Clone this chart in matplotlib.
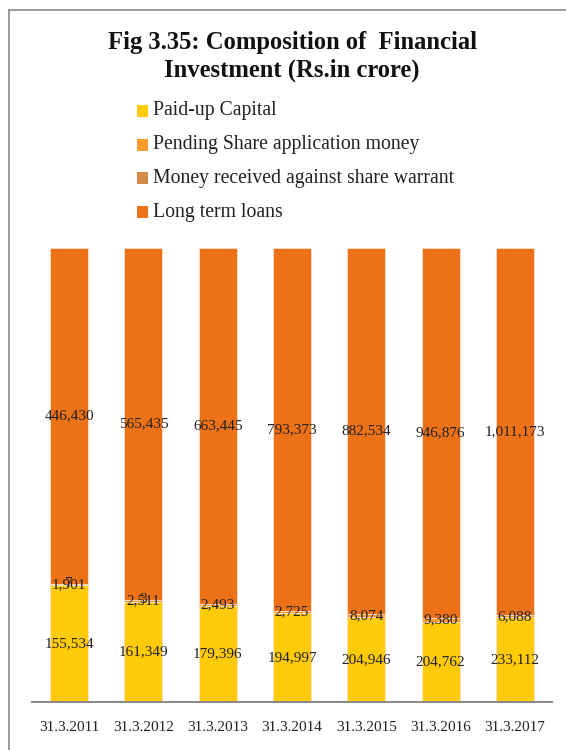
import matplotlib
matplotlib.use("Agg")
import matplotlib.pyplot as plt
from matplotlib.patches import Rectangle
from matplotlib.lines import Line2D
import numpy as np

categories = ["31.3.2011", "31.3.2012", "31.3.2013", "31.3.2014", "31.3.2015", "31.3.2016", "31.3.2017"]
paid_up = [155534, 161349, 179396, 194997, 204946, 204762, 233112]
pending = [1901, 2511, 2493, 2725, 8074, 9380, 6088]
warrant = [7, 3, 0, 0, 0, 0, 0]
loans = [446430, 565435, 663445, 793373, 882534, 946876, 1011173]

series_names = ["Paid-up Capital", "Pending Share application money",
                "Money received against share warrant", "Long term loans"]
colors = ["#FFCA08", "#F99B2A", "#D18B47", "#EC7117"]

plt.rcParams['font.family'] = ['Liberation Serif', 'DejaVu Serif']

W, H = 566, 750
fig = plt.figure(figsize=(W / 100, H / 100), dpi=100)

# frame lines (top and left)
fig.add_artist(Line2D([9 / W, 1.0], [1 - 10 / H, 1 - 10 / H], color="#999999", lw=1.4, transform=fig.transFigure))
fig.add_artist(Line2D([9 / W, 9 / W], [1 - 10 / H, 0], color="#999999", lw=1.4, transform=fig.transFigure))

# title
fig.text(293 / W, 1 - 42 / H, "Fig 3.35: Composition of  Financial", ha="center", va="center",
         fontsize=17.7, fontweight="bold", color="#111111")
fig.text(292 / W, 1 - 70 / H, "Investment (Rs.in crore)", ha="center", va="center",
         fontsize=17.7, fontweight="bold", color="#111111")

# legend
rows_y = [111, 145, 178, 212]
for name, c, yy in zip(series_names, colors, rows_y):
    fig.add_artist(Rectangle((137 / W, 1 - (yy + 5.5) / H), 11 / W, 11 / H, facecolor=c,
                             edgecolor="none", transform=fig.transFigure))
    fig.text(153 / W, 1 - yy / H, name, ha="left", va="center", fontsize=14.2, color="#222222")

ax = fig.add_axes([32 / W, 1 - 702 / H, (552 - 32) / W, (702 - 248) / H])

data = np.array([paid_up, pending, warrant, loans], dtype=float)
totals = data.sum(axis=0)
frac = data / totals * 100
x = np.arange(len(categories))
bottom = np.zeros(len(categories))
for i in range(4):
    ax.bar(x, frac[i], bottom=bottom, width=0.51, color=colors[i],
           edgecolor="#FBE3CC", linewidth=0.6)
    for j in range(len(categories)):
        if data[i, j] > 0:
            ax.text(x[j], bottom[j] + frac[i, j] / 2, f"{int(data[i, j]):,}",
                    ha="center", va="center", fontsize=11, color="#222222")
    bottom += frac[i]

ax.set_xlim(-0.5, len(categories) - 0.5)
ax.set_ylim(0, 100)
ax.set_xticks(x)
ax.set_xticklabels(categories, fontsize=11, color="#222222")
ax.tick_params(axis="x", length=0, pad=14)
ax.set_yticks([])
for s in ["top", "right", "left"]:
    ax.spines[s].set_visible(False)
ax.spines["bottom"].set_color("#888888")
ax.spines["bottom"].set_linewidth(1.4)

fig.savefig("out.png", dpi=100)
